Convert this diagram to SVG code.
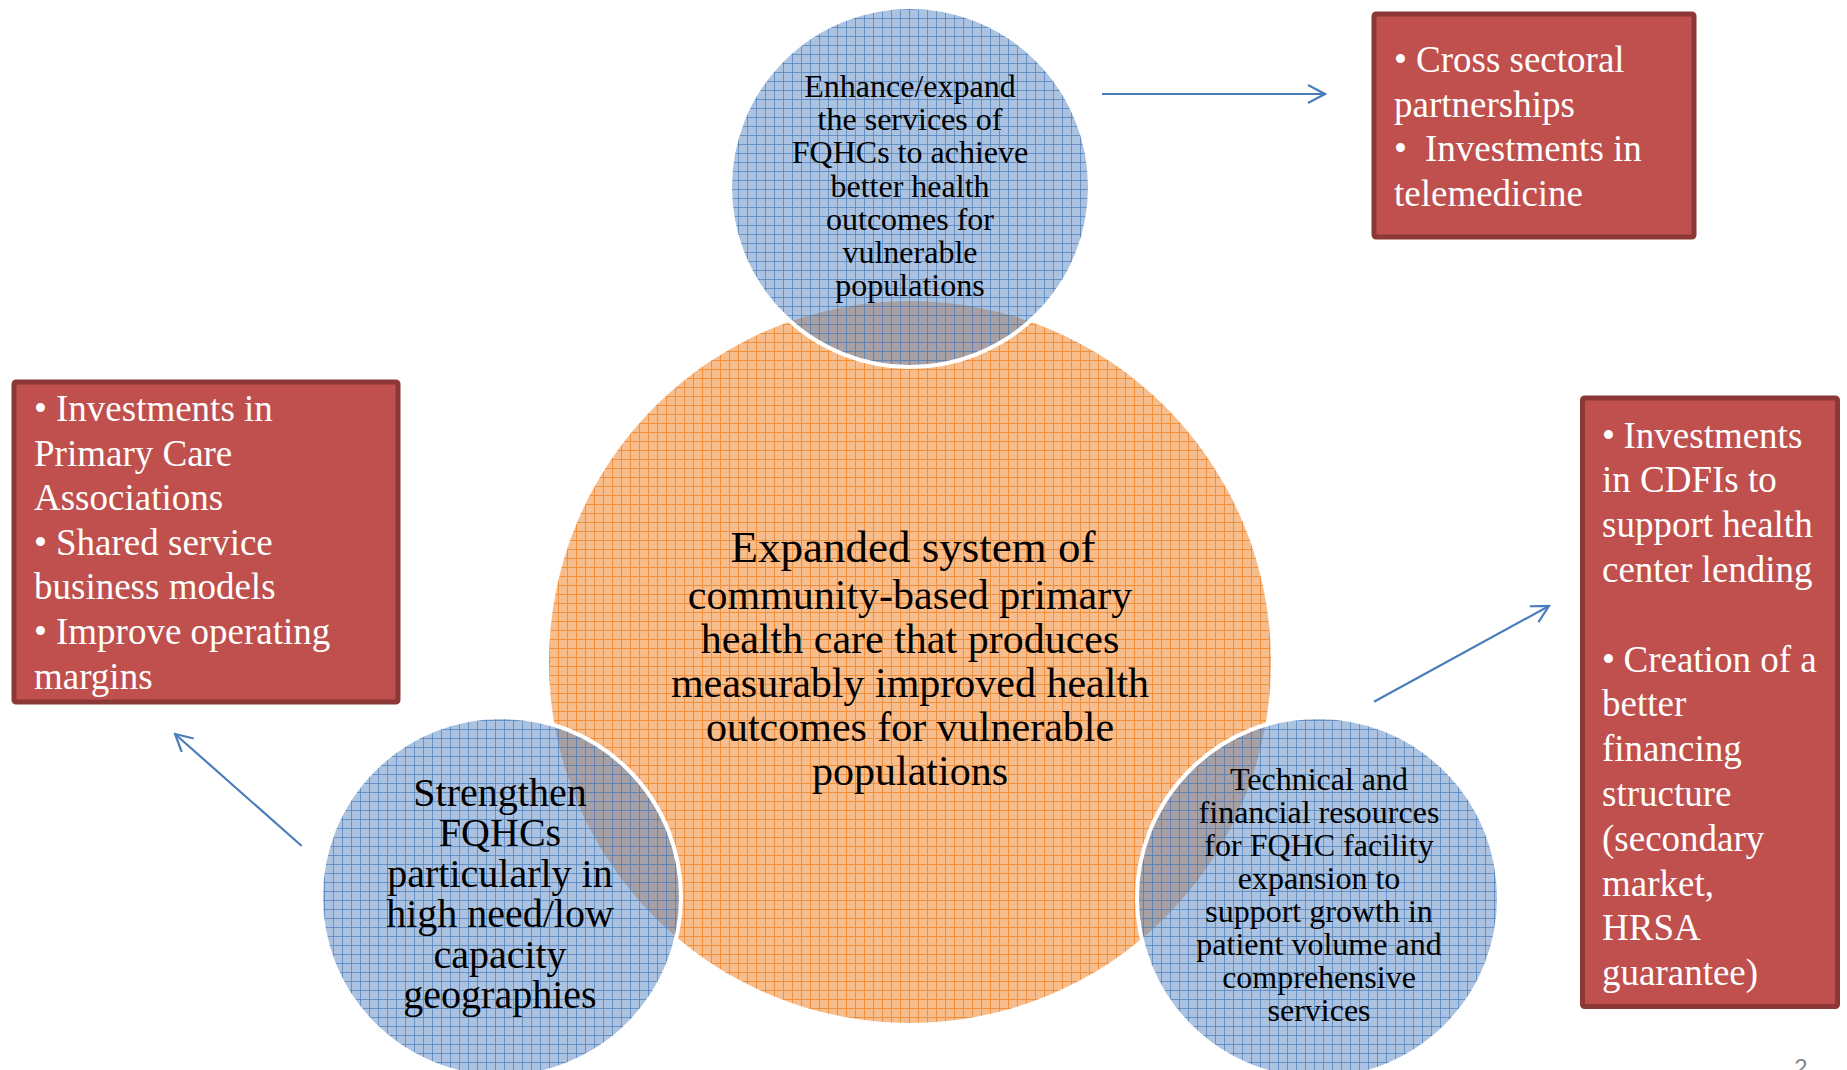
<svg xmlns="http://www.w3.org/2000/svg" width="1847" height="1070" viewBox="0 0 1847 1070">
  <style>
    text { font-family: "Liberation Serif", "Times New Roman", serif; }
    .dark { fill: #000000; text-anchor: middle; }
    .t32 { font-size: 32px; }
    .t40 { font-size: 40px; }
    .t42 { font-size: 42px; }
    .t45 { font-size: 45px; }
    .box { fill: #c0504d; stroke: #8c3836; stroke-width: 5; }
    .boxtext { fill: #ffffff; font-size: 37px; }
    .conn { fill: none; stroke: #4a7ebb; stroke-width: 2.2; }
    .ring { stroke: #ffffff; stroke-width: 4; }
  </style>
  <defs>
    <!-- orange grid texture -->
    <pattern id="orangeGrid" patternUnits="userSpaceOnUse" width="9" height="9">
      <rect width="9" height="9" fill="#f8bd8d"/>
      <path d="M0,0.5 H9 M0.5,0 V9" stroke="#f0903c" stroke-width="1"/>
    </pattern>
    <!-- translucent blue grid texture -->
    <pattern id="blueGrid" patternUnits="userSpaceOnUse" width="9" height="9">
      <rect width="9" height="9" fill="#4f81bd" fill-opacity="0.48"/>
      <path d="M0,0.5 H9 M0.5,0 V9" stroke="#4f81bd" stroke-opacity="0.75" stroke-width="1"/>
    </pattern>
    <marker id="openArrow" viewBox="0 0 20 20" refX="18" refY="10" markerWidth="20" markerHeight="20" markerUnits="userSpaceOnUse" orient="auto">
      <path d="M1,1 L18,10 L1,19" fill="none" stroke="#4a7ebb" stroke-width="2.2"/>
    </marker>
  </defs>

  <rect width="1847" height="1070" fill="#ffffff"/>

  <!-- central goal -->
  <g id="node-center">
    <circle cx="910" cy="662" r="361" fill="url(#orangeGrid)"/>
  </g>

  <!-- outer strategies -->
  <g id="node-top">
    <circle class="ring" cx="910" cy="187" r="180" fill="url(#blueGrid)"/>
    <text class="dark t32" x="910" y="97">Enhance/expand</text>
    <text class="dark t32" x="910" y="130.2">the services of</text>
    <text class="dark t32" x="910" y="163.4">FQHCs to achieve</text>
    <text class="dark t32" x="910" y="196.6">better health</text>
    <text class="dark t32" x="910" y="229.8">outcomes for</text>
    <text class="dark t32" x="910" y="263">vulnerable</text>
    <text class="dark t32" x="910" y="296.2">populations</text>
  </g>

  <g id="node-left">
    <circle class="ring" cx="501" cy="897" r="180" fill="url(#blueGrid)"/>
    <text class="dark t40" x="500" y="806">Strengthen</text>
    <text class="dark t40" x="500" y="846.4">FQHCs</text>
    <text class="dark t40" x="500" y="886.8">particularly in</text>
    <text class="dark t40" x="500" y="927.2">high need/low</text>
    <text class="dark t40" x="500" y="967.6">capacity</text>
    <text class="dark t40" x="500" y="1008">geographies</text>
  </g>

  <g id="node-right">
    <circle class="ring" cx="1318" cy="898" r="181" fill="url(#blueGrid)"/>
    <text class="dark t32" x="1319" y="790">Technical and</text>
    <text class="dark t32" x="1319" y="823">financial resources</text>
    <text class="dark t32" x="1319" y="856">for FQHC facility</text>
    <text class="dark t32" x="1319" y="889">expansion to</text>
    <text class="dark t32" x="1319" y="922">support growth in</text>
    <text class="dark t32" x="1319" y="955">patient volume and</text>
    <text class="dark t32" x="1319" y="988">comprehensive</text>
    <text class="dark t32" x="1319" y="1021">services</text>
  </g>

  <!-- central label drawn above the overlaps -->
  <g id="node-center-label">
    <text class="dark t45" x="913" y="562">Expanded system of</text>
    <text class="dark t42" x="910" y="609">community-based primary</text>
    <text class="dark t42" x="910" y="653">health care that produces</text>
    <text class="dark t42" x="910" y="697">measurably improved health</text>
    <text class="dark t42" x="910" y="741">outcomes for vulnerable</text>
    <text class="dark t42" x="910" y="785">populations</text>
  </g>

  <!-- action boxes -->
  <g id="box-top-right">
    <rect class="box" x="1374" y="14" width="320" height="223" rx="2"/>
    <text class="boxtext" x="1394" y="72">•</text>
    <text class="boxtext" x="1416" y="72">Cross sectoral</text>
    <text class="boxtext" x="1394" y="116.5">partnerships</text>
    <text class="boxtext" x="1394" y="161">•</text>
    <text class="boxtext" x="1425" y="161">Investments in</text>
    <text class="boxtext" x="1394" y="205.5">telemedicine</text>
  </g>

  <g id="box-left">
    <rect class="box" x="14" y="382" width="384" height="320" rx="2"/>
    <text class="boxtext" x="34" y="421">•</text>
    <text class="boxtext" x="56" y="421">Investments in</text>
    <text class="boxtext" x="34" y="465.6">Primary Care</text>
    <text class="boxtext" x="34" y="510.2">Associations</text>
    <text class="boxtext" x="34" y="554.8">•</text>
    <text class="boxtext" x="56" y="554.8">Shared service</text>
    <text class="boxtext" x="34" y="599.4">business models</text>
    <text class="boxtext" x="34" y="644">•</text>
    <text class="boxtext" x="56" y="644">Improve operating</text>
    <text class="boxtext" x="34" y="688.6">margins</text>
  </g>

  <g id="box-right">
    <rect class="box" x="1582.5" y="398" width="255" height="608.5" rx="2"/>
    <text class="boxtext" x="1602" y="447.6">•</text>
    <text class="boxtext" x="1623.5" y="447.6">Investments</text>
    <text class="boxtext" x="1602" y="492.4">in CDFIs to</text>
    <text class="boxtext" x="1602" y="537.2">support health</text>
    <text class="boxtext" x="1602" y="582">center lending</text>
    <text class="boxtext" x="1602" y="671.6">•</text>
    <text class="boxtext" x="1623.5" y="671.6">Creation of a</text>
    <text class="boxtext" x="1602" y="716.4">better</text>
    <text class="boxtext" x="1602" y="761.2">financing</text>
    <text class="boxtext" x="1602" y="806">structure</text>
    <text class="boxtext" x="1602" y="850.8">(secondary</text>
    <text class="boxtext" x="1602" y="895.6">market,</text>
    <text class="boxtext" x="1602" y="940.4">HRSA</text>
    <text class="boxtext" x="1602" y="985.2">guarantee)</text>
  </g>

  <!-- connectors -->
  <g id="connectors">
    <line class="conn" x1="1102" y1="94" x2="1325" y2="94" marker-end="url(#openArrow)"/>
    <line class="conn" x1="301.7" y1="846" x2="175" y2="734" marker-end="url(#openArrow)"/>
    <line class="conn" x1="1374" y1="701.7" x2="1549" y2="606" marker-end="url(#openArrow)"/>
  </g>

  <!-- slide number -->
  <text x="1801" y="1076" style="font-family: 'Liberation Sans', Arial, sans-serif" font-size="24" fill="#898989" text-anchor="middle">2</text>
</svg>
